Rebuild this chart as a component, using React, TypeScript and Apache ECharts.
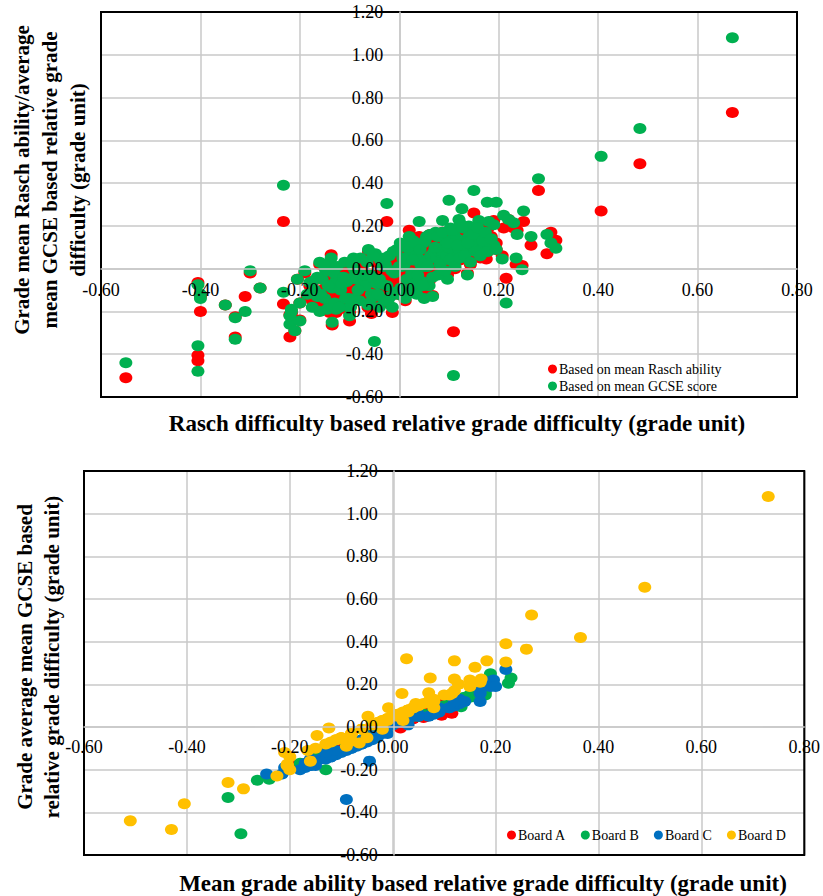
import React, { useEffect, useRef } from 'react';
import * as echarts from 'echarts';

// Rasch difficulty based relative grade difficulty (x of upper chart)
const raschDiff = [
  0.67, 0.484, 0.406, 0.28, -0.55, -0.405, -0.405, 0.109, -0.05, -0.33,
  -0.233, -0.025, 0.15, 0.10, 0.177, 0.195, 0.126, 0.25, 0.23, 0.237,
  0.265, 0.297, 0.315, 0.305, 0.207, 0.247, 0.215, -0.35, -0.33, -0.31,
  -0.30, -0.28, -0.233, -0.217, -0.22, -0.21, -0.20, -0.205, -0.20, -0.16,
  -0.137, -0.135, -0.10, -0.056, -0.014, 0.04, 0.02, 0.067, 0.05, 0.04,
  0.097, 0.137, 0.16, 0.175, 0.235, -0.405, -0.40, -0.40, -0.18, -0.217,
  -0.22, -0.175, -0.14, -0.127, -0.10, -0.04, 0.087, 0.12, 0.06, 0.02,
  -0.03, -0.09, -0.12, 0.14, 0.11, 0.21, 0.22, 0.19, 0.16, 0.18,
  0.12, 0.09, 0.08, 0.07,
  -0.17, -0.165, -0.16, -0.155, -0.15, -0.148, -0.145, -0.14, -0.138, -0.135,
  -0.13, -0.128, -0.125, -0.12, -0.118, -0.115, -0.11, -0.108, -0.105, -0.10,
  -0.098, -0.095, -0.09, -0.088, -0.085, -0.08, -0.078, -0.075, -0.07, -0.068,
  -0.065, -0.06, -0.058, -0.055, -0.05, -0.048, -0.045, -0.04, -0.038, -0.035,
  -0.03, -0.028, -0.025, -0.02, -0.018, -0.015, -0.01, -0.008, -0.005, 0.0,
  0.003, 0.005, 0.008, 0.01, 0.013, 0.015, 0.018, 0.02, 0.023, 0.025,
  0.028, 0.03, 0.033, 0.035, 0.038, 0.04, 0.043, 0.045, 0.048, 0.05,
  0.053, 0.055, 0.058, 0.06, 0.063, 0.065, 0.068, 0.07, 0.073, 0.075,
  0.078, 0.08, 0.083, 0.085, 0.088, 0.09, 0.093, 0.095, 0.098, 0.10,
  0.103, 0.105, 0.108, 0.11, 0.113, 0.115, 0.118, 0.12, 0.123, 0.125,
  0.13, 0.135, 0.14, 0.145, 0.15, 0.155, 0.16, 0.165, 0.17, 0.18, 0.19,
  -0.165, -0.158, -0.152, -0.143, -0.132, -0.122, -0.112, -0.102, -0.092, -0.083,
  -0.073, -0.063, -0.053, -0.043, -0.033, -0.023, -0.012, -0.003, 0.007, 0.012,
  0.017, 0.022, 0.027, 0.032, 0.037, 0.042, 0.047, 0.052, 0.057, 0.062,
  0.067, 0.072, 0.077, 0.082, 0.087, 0.092, 0.097, 0.102, 0.107, 0.112,
  0.117, 0.122, 0.127, 0.132, 0.138, 0.143, 0.148, 0.153, 0.158, 0.163,
  0.168, 0.173, 0.178, 0.185, 0.195, -0.185, -0.19, -0.175, -0.062, 0.002,
];

// Grade mean Rasch ability based relative grade difficulty
const abilityDiff = [
  0.73, 0.49, 0.27, 0.365, -0.51, -0.43, -0.405, -0.295, -0.09, -0.32,
  0.22, 0.22, 0.26, 0.027, 0.183, 0.12, 0.16, 0.22, 0.19, 0.18,
  0.11, 0.07, 0.133, 0.17, 0.06, 0.015, -0.045, -0.17, -0.225, -0.13,
  -0.02, -0.09, -0.165, -0.20, -0.32, -0.29, -0.24, -0.05, -0.16, 0.02,
  0.065, -0.263, -0.245, -0.21, -0.205, 0.15, 0.18, -0.125, -0.12, -0.09,
  -0.03, -0.02, 0.172, 0.045, 0.02, -0.065, -0.20, -0.13, -0.08, -0.21,
  -0.215, -0.15, -0.205, -0.205, -0.205, -0.16, 0.12, 0.073, 0.018, -0.008,
  -0.048, -0.124, -0.147, 0.128, 0.115, 0.19, 0.23, 0.225, 0.17, 0.196,
  0.141, 0.121, 0.115, 0.095,
  -0.15, -0.12, -0.18, -0.10, -0.14, -0.06, -0.17, -0.13, -0.02, -0.09,
  -0.155, -0.11, -0.04, -0.16, -0.08, -0.12, -0.01, -0.14, -0.06, -0.10,
  -0.17, -0.03, -0.12, -0.08, -0.05, -0.14, 0.01, -0.09, -0.11, -0.06,
  -0.02, -0.15, -0.08, -0.04, -0.12, 0.03, -0.07, -0.10, -0.01, -0.05,
  -0.13, -0.03, -0.08, 0.02, -0.11, -0.06, -0.02, -0.09, 0.04, -0.04,
  -0.07, 0.01, -0.12, -0.03, 0.06, -0.05, 0.00, -0.08, 0.03, -0.02,
  0.08, -0.06, 0.01, -0.10, 0.05, -0.01, 0.02, -0.04, 0.07, 0.03,
  -0.02, 0.10, 0.04, -0.06, 0.06, 0.01, 0.09, 0.03, 0.12, 0.05,
  -0.01, 0.08, 0.04, 0.11, 0.06, 0.02, 0.13, 0.08, 0.05, 0.10,
  0.15, 0.07, 0.12, 0.03, 0.09, 0.14, 0.06, 0.11, 0.17, 0.08,
  0.13, 0.10, 0.15, 0.07, 0.12, 0.18, 0.14, 0.09, 0.16, 0.13, 0.11,
  -0.05, -0.13, 0.01, -0.09, -0.03, -0.19, -0.05, -0.15, 0.04, -0.10,
  -0.04, -0.18, 0.05, -0.13, 0.00, -0.16, 0.07, -0.12, 0.05, -0.15,
  0.10, -0.11, 0.04, 0.12, -0.03, 0.09, -0.08, 0.13, 0.01, 0.16,
  -0.03, 0.09, 0.15, 0.01, 0.17, -0.02, 0.12, 0.04, 0.18, 0.00,
  0.10, 0.04, 0.19, 0.06, 0.12, 0.02, 0.16, 0.08, 0.20, 0.05,
  0.12, 0.17, 0.08, 0.15, 0.09, -0.13, -0.02, -0.06, 0.08, 0.08,
];

// Grade average mean GCSE based relative grade difficulty
const gcseDiff = [
  1.08, 0.655, 0.525, 0.42, -0.44, -0.48, -0.36, -0.50, -0.34, -0.33,
  0.39, 0.305, 0.365, 0.32, 0.31, 0.31, 0.28, 0.27, 0.215, 0.16,
  0.15, 0.16, 0.095, 0.12, 0.045, -0.005, -0.16, -0.17, -0.23, -0.20,
  -0.01, -0.09, -0.11, -0.20, -0.26, -0.29, -0.245, -0.05, -0.16, 0.03,
  0.05, -0.25, -0.22, -0.12, -0.18, 0.22, 0.15, -0.13, -0.14, -0.07,
  -0.05, -0.03, 0.225, 0.11, 0.05, -0.075, -0.14, -0.12, -0.065, -0.19,
  -0.22, -0.18, -0.175, -0.19, -0.18, -0.18, 0.225, 0.23, 0.157, 0.09,
  0.05, -0.005, -0.04, 0.20, 0.157, 0.25, 0.23, 0.205, 0.157, 0.22,
  0.135, 0.10, 0.065, 0.055,
  -0.10, -0.13, -0.20, -0.05, -0.14, -0.01, -0.19, -0.08, 0.02, -0.09,
  -0.16, -0.06, 0.01, -0.18, -0.10, -0.07, 0.03, -0.14, -0.06, -0.05,
  -0.18, 0.02, -0.14, -0.03, -0.05, -0.15, 0.05, -0.08, -0.06, -0.08,
  0.03, -0.16, -0.03, -0.04, -0.13, 0.07, -0.07, -0.05, 0.04, -0.07,
  -0.15, 0.02, -0.08, 0.06, -0.13, -0.01, -0.02, -0.11, 0.09, 0.01,
  -0.09, 0.01, -0.13, 0.02, 0.11, -0.05, 0.05, -0.10, 0.08, -0.02,
  0.13, -0.07, 0.06, -0.12, 0.05, 0.04, 0.02, -0.06, 0.12, 0.01,
  0.03, 0.15, 0.04, -0.08, 0.06, 0.06, 0.07, 0.08, 0.17, 0.05,
  -0.03, 0.08, 0.09, 0.09, 0.06, 0.07, 0.13, 0.06, 0.10, 0.10,
  0.19, 0.05, 0.12, 0.08, 0.07, 0.14, 0.06, 0.09, 0.21, 0.08,
  0.11, 0.10, 0.15, 0.12, 0.10, 0.18, 0.12, 0.09, 0.16, 0.11, 0.11,
  -0.04, -0.12, 0.02, -0.08, -0.02, -0.18, -0.04, -0.14, 0.05, -0.10,
  -0.03, -0.17, 0.06, -0.12, 0.01, -0.15, 0.08, -0.12, 0.05, -0.14,
  0.10, -0.11, 0.04, 0.12, -0.03, 0.09, -0.08, 0.13, 0.01, 0.16,
  -0.04, 0.10, 0.15, 0.02, 0.17, -0.01, 0.12, 0.04, 0.18, 0.01,
  0.11, 0.05, 0.19, 0.06, 0.12, 0.03, 0.16, 0.08, 0.19, 0.06,
  0.13, 0.17, 0.08, 0.14, 0.09, -0.12, -0.01, -0.06, 0.09, 0.12,
];

// Awarding board of each grade
const boardOf = [
  'D', 'D', 'D', 'D', 'D', 'D', 'D', 'B', 'C', 'B',
  'D', 'D', 'D', 'D', 'D', 'D', 'D', 'C', 'C', 'B',
  'D', 'D', 'B', 'C', 'A', 'A', 'C', 'C', 'D', 'B',
  'D', 'D', 'D', 'D', 'D', 'D', 'B', 'D', 'D', 'D',
  'A', 'B', 'C', 'D', 'D', 'D', 'B', 'C', 'C', 'A',
  'C', 'C', 'D', 'D', 'C', 'D', 'D', 'B', 'D', 'C',
  'C', 'C', 'D', 'C', 'D', 'C', 'D', 'D', 'D', 'D',
  'D', 'D', 'D', 'D', 'D', 'B', 'B', 'B', 'C', 'C',
  'B', 'C', 'A', 'A',
  'D', 'C', 'C', 'D', 'B', 'D', 'C', 'D', 'D', 'A',
  'B', 'D', 'D', 'C', 'C', 'D', 'D', 'A', 'B', 'D',
  'C', 'D', 'C', 'D', 'A', 'C', 'D', 'B', 'D', 'C',
  'D', 'C', 'D', 'A', 'C', 'D', 'B', 'D', 'D', 'C',
  'C', 'D', 'A', 'D', 'C', 'D', 'B', 'C', 'D', 'D',
  'C', 'A', 'C', 'D', 'D', 'B', 'D', 'C', 'D', 'A',
  'D', 'C', 'D', 'C', 'B', 'D', 'A', 'C', 'D', 'C',
  'D', 'D', 'A', 'C', 'B', 'D', 'C', 'D', 'D', 'A',
  'C', 'B', 'D', 'C', 'A', 'D', 'B', 'C', 'D', 'A',
  'D', 'C', 'B', 'D', 'C', 'B', 'A', 'C', 'D', 'B',
  'C', 'A', 'B', 'D', 'C', 'B', 'C', 'A', 'B', 'C', 'B',
  'B', 'A', 'C', 'B', 'C', 'A', 'C', 'B', 'C', 'A',
  'C', 'B', 'C', 'A', 'B', 'C', 'A', 'B', 'C', 'A',
  'B', 'C', 'A', 'B', 'C', 'A', 'B', 'C', 'A', 'B',
  'C', 'A', 'B', 'C', 'A', 'B', 'C', 'A', 'B', 'C',
  'A', 'B', 'C', 'A', 'B', 'C', 'A', 'B', 'C', 'A',
  'B', 'C', 'A', 'B', 'C', 'C', 'B', 'C', 'D', 'D',
];

const topSeriesNames = ['Based on mean Rasch ability', 'Based on mean GCSE score'];
const boardKeys = ['A', 'B', 'C', 'D'];
const boardNames = ['Board A', 'Board B', 'Board C', 'Board D'];
const boardColors = ['#ff0000', '#00b050', '#0070c0', '#ffc000'];

const xRange = { min: -0.6, max: 0.8, interval: 0.2 };
const yRange = { min: -0.6, max: 1.2, interval: 0.2 };

const topXTitle = 'Rasch difficulty based relative grade difficulty (grade unit)';
const topYTitle = 'Grade mean Rasch ability/average\nmean GCSE based relative grade\ndifficulty (grade unit)';
const botXTitle = 'Mean grade ability based relative grade difficulty (grade unit)';
const botYTitle = 'Grade average mean GCSE based\nrelative grade difficulty (grade unit)';

const FONT = 'Liberation Serif';
const GRID_COLOR = '#c8c8c8';

type Range = { min: number; max: number; interval: number };

// Two axes per dimension: one draws the gridlines under the points, the
// other one draws the tick labels (on top of the points) crossing at zero.
function axesFor(gridIndex: number, dim: 'x' | 'y', range: Range, margin: number, zeroOffset: number) {
  const base = { type: 'value', gridIndex, min: range.min, max: range.max, interval: range.interval };
  const position = dim === 'x' ? 'bottom' : 'left';
  const lines = {
    ...base,
    position,
    z: 0,
    axisLine: { show: false, onZero: false },
    axisTick: { show: false },
    axisLabel: { show: false },
    splitLine: { show: true, lineStyle: { color: GRID_COLOR, width: 1.5 } },
  };
  const labels = {
    ...base,
    position,
    offset: zeroOffset,
    z: 5,
    axisLine: { show: true, onZero: false, lineStyle: { color: GRID_COLOR, width: 1.5 } },
    axisTick: { show: false },
    splitLine: { show: false },
    axisLabel: {
      show: true,
      margin,
      color: '#000',
      fontFamily: FONT,
      fontSize: 18,
      formatter: (v: number) => v.toFixed(2),
    },
  };
  return [lines, labels];
}

export default function App() {
  const ref = useRef<HTMLDivElement>(null);

  useEffect(() => {
    if (!ref.current) return;
    const chart = echarts.init(ref.current, undefined, { renderer: 'svg' });

    const idx = raschDiff.map((_, i) => i);
    const redData = idx.map((i) => [raschDiff[i], abilityDiff[i]]);
    const greenData = idx.map((i) => [raschDiff[i], gcseDiff[i]]);

    const markerSize = [13, 11];

    const series: any[] = [
      {
        name: topSeriesNames[0], type: 'scatter', xAxisIndex: 0, yAxisIndex: 0,
        data: redData, symbolSize: markerSize, itemStyle: { color: '#ff0000', opacity: 1 },
      },
      {
        name: topSeriesNames[1], type: 'scatter', xAxisIndex: 0, yAxisIndex: 0,
        data: greenData, symbolSize: markerSize, itemStyle: { color: '#00b050', opacity: 1 },
      },
    ];
    boardKeys.forEach((k, bi) => {
      series.push({
        name: boardNames[bi], type: 'scatter', xAxisIndex: 2, yAxisIndex: 2,
        data: idx.filter((i) => boardOf[i] === k).map((i) => [abilityDiff[i], gcseDiff[i]]),
        symbolSize: markerSize, itemStyle: { color: boardColors[bi], opacity: 1 },
      });
    });

    const grids = [
      { left: 101, top: 12, width: 696, height: 385 },
      { left: 84, top: 471, width: 723, height: 384 },
    ];
    const xZero = (g: { width: number }) => -g.width * (0 - xRange.min) / (xRange.max - xRange.min);
    const yZero = (g: { height: number }) => -g.height * (0 - yRange.min) / (yRange.max - yRange.min);

    const [tx0, tx1] = axesFor(0, 'x', xRange, 12, yZero(grids[0]));
    const [bx0, bx1] = axesFor(1, 'x', xRange, 11, yZero(grids[1]));
    const [ty0, ty1] = axesFor(0, 'y', yRange, 16, xZero(grids[0]));
    const [by0, by1] = axesFor(1, 'y', yRange, 16, xZero(grids[1]));

    const xTitleFont = `bold 23px ${FONT}`;
    const yTitleFont = `bold 21px ${FONT}`;

    chart.setOption({
      animation: false,
      backgroundColor: '#ffffff',
      grid: grids.map((g) => ({
        ...g, show: true, borderColor: '#000', borderWidth: 2, backgroundColor: 'transparent', z: 1,
      })),
      xAxis: [tx0, tx1, bx0, bx1],
      yAxis: [ty0, ty1, by0, by1],
      legend: [
        {
          data: topSeriesNames, orient: 'vertical', left: 548, top: 362, padding: 0,
          itemGap: 3, itemWidth: 9, itemHeight: 9, icon: 'circle',
          textStyle: { fontFamily: FONT, fontSize: 14, color: '#000', padding: [0, 0, 0, -3] },
        },
        {
          data: boardNames, orient: 'horizontal', left: 507, top: 828, padding: 0,
          itemGap: 15, itemWidth: 9, itemHeight: 9, icon: 'circle',
          textStyle: { fontFamily: FONT, fontSize: 14, color: '#000', padding: [0, 0, 0, -3] },
        },
      ],
      series,
      graphic: [
        { type: 'text', x: 457, y: 423, style: { text: topXTitle, font: xTitleFont, fill: '#000', textAlign: 'center', textVerticalAlign: 'middle' } },
        { type: 'text', x: 50, y: 180, rotation: Math.PI / 2, style: { text: topYTitle, font: yTitleFont, fill: '#000', textAlign: 'center', textVerticalAlign: 'middle', lineHeight: 28 } },
        { type: 'text', x: 483, y: 883, style: { text: botXTitle, font: xTitleFont, fill: '#000', textAlign: 'center', textVerticalAlign: 'middle' } },
        { type: 'text', x: 38, y: 657, rotation: Math.PI / 2, style: { text: botYTitle, font: yTitleFont, fill: '#000', textAlign: 'center', textVerticalAlign: 'middle', lineHeight: 27 } },
      ],
    });

    return () => chart.dispose();
  }, []);

  return <div ref={ref} style={{ position: 'absolute', left: 0, top: 0, width: 823, height: 896 }} />;
}
